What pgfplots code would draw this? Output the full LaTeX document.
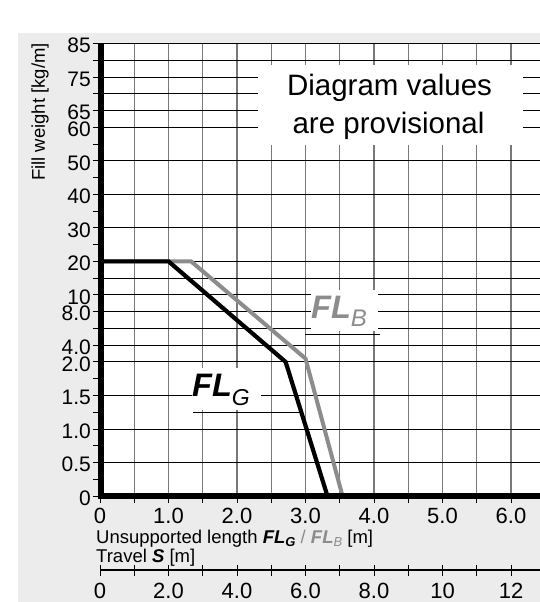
\documentclass[border=0pt]{standalone}
\usepackage{pgfplots}
\pgfplotsset{compat=1.18}
\usepackage{fontspec}
\setmainfont{Liberation Sans}

\definecolor{bgc}{RGB}{236,236,236}
\definecolor{gridgray}{RGB}{120,120,120}
\definecolor{flb}{RGB}{140,140,140}

\newcommand{\fs}[1]{\fontsize{#1bp}{#1bp}\selectfont}
% subscript lowered below the baseline
\newcommand{\low}[2]{\raisebox{-#1bp}{#2}}

\begin{document}
\begin{tikzpicture}
\path[use as bounding box] (0,0) rectangle (540bp,-602bp);
\fill[bgc] (18bp,-33bp) rectangle (540bp,-602bp);
\fill[white] (100bp,-43.5bp) rectangle (540bp,-496bp);

% main chart, y in grid rows (nonlinear scale)
\begin{axis}[
  at={(100bp,-496bp)}, anchor=south west,
  scale only axis, width=440bp, height=452.5bp,
  xmin=0, xmax=6.423, ymin=0, ymax=27,
  axis line style={draw=none},
  xtick={0,0.5,1,1.5,2,2.5,3,3.5,4,4.5,5,5.5,6},
  xticklabels={0,,1.0,,2.0,,3.0,,4.0,,5.0,,6.0},
  ytick={0,1,...,27},
  yticklabels={0,,0.5,,1.0,,1.5,,2.0,4.0,,8.0,10,,20,,30,,40,,50,,60,65,,75,,85},
  xtick pos=bottom, ytick pos=left,
  tick align=outside, major tick length=7bp,
  tick style={black, line width=0.9bp},
  xmajorgrids,
  major grid style={gridgray, line width=1.3bp},
  extra y ticks={2,4,6,8,9,10,11,12,13,14,16,18,20,22,23,24,25,26,27},
  extra y tick labels={},
  extra y tick style={grid=major, major grid style={black, line width=0.9bp}, major tick length=0pt},
  xticklabel style={font=\fs{22}, inner sep=2bp, yshift=-3bp},
  yticklabel style={font=\fs{21}, inner sep=2bp, yshift=-2bp},
]
% FL_B (grey)
\addplot[flb, line width=4bp] coordinates {(0,14) (1.33,14) (3.0,8.2) (3.54,0)};
% FL_G (black)
\addplot[black, line width=4.2bp] coordinates {(0,14) (1.0,14) (2.71,8) (3.32,0)};
\end{axis}

% thick axis lines
\draw[line width=6.5bp, line join=miter] (101bp,-43bp) -- (101bp,-496bp) -- (545bp,-496bp);

% note box
\fill[white] (258bp,-65bp) rectangle (523bp,-145bp);
\node[anchor=base, inner sep=0pt, font=\fs{29.5}] at (389.5bp,-95bp) {Diagram values};
\node[anchor=base, inner sep=0pt, font=\fs{29.5}] at (388.5bp,-133bp) {are provisional};

% curve labels
\fill[white] (311bp,-290bp) rectangle (378bp,-331bp);
\node[anchor=base west, inner sep=0pt, font=\fs{32.5}, text=flb] at (311bp,-318.3bp)
  {\textbf{\textit{FL}}\low{8.3}{\fs{24}\textit{B}}};
\draw[black, line width=0.9bp] (305bp,-334bp) -- (380bp,-334bp);
\fill[white] (192bp,-368bp) rectangle (261bp,-410bp);
\node[anchor=base west, inner sep=0pt, font=\fs{32.5}] at (192bp,-396.7bp)
  {\textbf{\textit{FL}}\low{8.3}{\fs{23}\textit{G}}};
\draw[black, line width=0.9bp] (193bp,-412.7bp) -- (301bp,-412.7bp);

% axis titles
\node[rotate=90, anchor=east, inner sep=0pt, font=\fs{18.5}] at (40bp,-43bp) {Fill weight [kg/m]};
\node[anchor=base west, inner sep=0pt, font=\fs{18.5}] at (96bp,-543bp)
  {Unsupported length \textbf{\textit{FL}}\low{3}{\fs{13}\textbf{\textit{G}}} \textcolor{flb}{/ \textbf{\textit{FL}}\low{3}{\fs{13}\textit{B}}} [m]};
\node[anchor=base west, inner sep=0pt, font=\fs{18.5}] at (96bp,-562bp) {Travel \textbf{\textit{S}} [m]};

% travel scale
\begin{axis}[
  at={(100bp,-570bp)}, anchor=south west,
  scale only axis, width=440bp, height=20bp,
  xmin=0, xmax=12.846, ymin=0, ymax=1,
  axis line style={draw=none}, hide y axis,
  xtick={0,1,...,12},
  xticklabels={0,,2.0,,4.0,,6.0,,8.0,,10,,12},
  xtick pos=bottom, tick align=center, major tick length=11bp,
  tick style={black, line width=0.9bp},
  xticklabel style={font=\fs{22}, inner sep=2bp, yshift=-5bp},
]
\addplot[draw=none] coordinates {(0,0) (12,0)};
\end{axis}
\draw[black, line width=1.2bp] (100bp,-570bp) -- (545bp,-570bp);
\end{tikzpicture}
\end{document}
